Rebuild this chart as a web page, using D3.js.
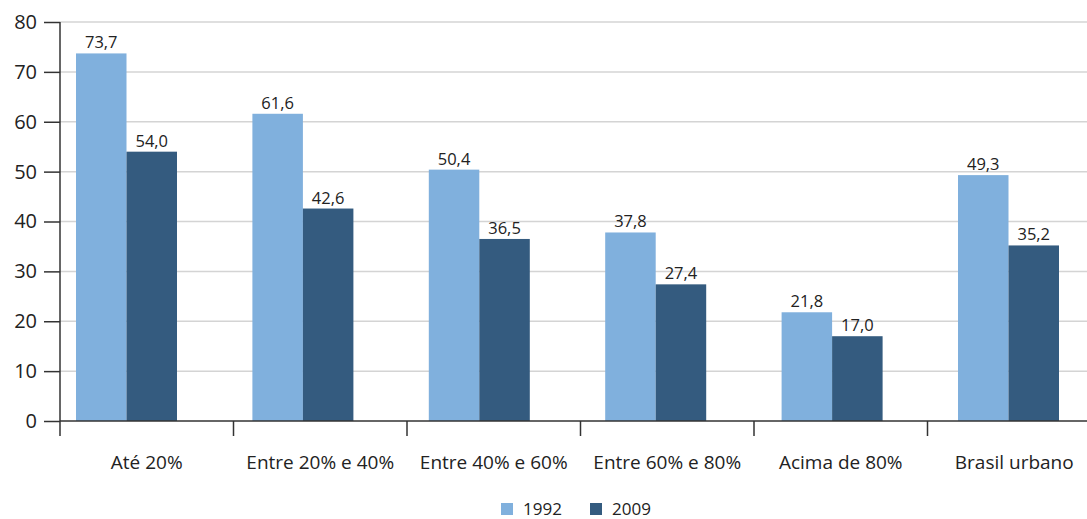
<!DOCTYPE html>
<html>
<head>
<meta charset="utf-8">
<script src="https://cdn.jsdelivr.net/npm/d3@7"></script>
<style>
  body { margin: 0; background: #fff; }
  text { font-family: "Open Sans", sans-serif; fill: #222; }
</style>
</head>
<body>
<div id="chart"></div>
<script>
// categories (income share groups) and the two series
var categories = ["Até 20%", "Entre 20% e 40%", "Entre 40% e 60%", "Entre 60% e 80%", "Acima de 80%", "Brasil urbano"];
var seriesNames = ["1992", "2009"];
var values1992 = [73.7, 61.6, 50.4, 37.8, 21.8, 49.3];
var values2009 = [54.0, 42.6, 36.5, 27.4, 17.0, 35.2];
var yTicks = [0, 10, 20, 30, 40, 50, 60, 70, 80];

var width = 1087, height = 519;
var colors = { "1992": "#80b0dd", "2009": "#345b7f" };

// build the grouped rows for d3
var data = categories.map(function(c, i) {
  return {
    category: c,
    values: [
      { name: "1992", value: values1992[i] },
      { name: "2009", value: values2009[i] }
    ]
  };
});

var svg = d3.select("#chart").append("svg")
  .attr("width", width)
  .attr("height", height);

// y scale
var y = d3.scaleLinear().domain([0, 80]).range([421, 22]);

// category bands for ticks and labels
var xCat = d3.scaleBand().domain(categories).range([60, 60 + 6 * 173.5]);

// bar groups sit on a slightly wider step than the label bands
var xBar = d3.scaleBand().domain(categories).range([76, 76 + 6 * 176.4]);
var x1 = d3.scaleBand().domain(seriesNames).range([0, 101]);

// gridlines
svg.append("g")
  .selectAll("line")
  .data(yTicks.filter(function(d) { return d > 0; }))
  .enter()
  .append("line")
  .attr("x1", 60)
  .attr("x2", width)
  .attr("y1", function(d) { return y(d); })
  .attr("y2", function(d) { return y(d); })
  .attr("stroke", "#d4d4d4")
  .attr("stroke-width", 1.5);

// bars
var group = svg.selectAll(".cat")
  .data(data)
  .enter()
  .append("g")
  .attr("class", "cat")
  .attr("transform", function(d) { return "translate(" + xBar(d.category) + ",0)"; });

group.selectAll("rect")
  .data(function(d) { return d.values; })
  .enter()
  .append("rect")
  .attr("x", function(d) { return x1(d.name); })
  .attr("width", x1.bandwidth())
  .attr("y", function(d) { return y(d.value); })
  .attr("height", function(d) { return y(0) - y(d.value); })
  .attr("fill", function(d) { return colors[d.name]; });

// value labels
group.selectAll("text")
  .data(function(d) { return d.values; })
  .enter()
  .append("text")
  .attr("x", function(d) { return x1(d.name) + x1.bandwidth() / 2; })
  .attr("y", function(d) { return y(d.value) - 5; })
  .attr("text-anchor", "middle")
  .style("font-size", "16.5px")
  .text(function(d) { return d.value.toFixed(1).replace(".", ","); });

// y axis
var yAxis = d3.axisLeft(y)
  .tickValues(yTicks)
  .tickSize(16)
  .tickPadding(7);

var yg = svg.append("g")
  .attr("transform", "translate(60,0)")
  .call(yAxis);
yg.select(".domain").remove();
yg.selectAll(".tick line").attr("stroke", "#333").attr("stroke-width", 1.5);
yg.selectAll(".tick text")
  .style("font-size", "20px")
  .style("font-family", "'Open Sans', sans-serif")
  .attr("fill", "#222");

// vertical axis line, runs below the baseline like the category ticks
svg.append("line")
  .attr("x1", 60).attr("x2", 60)
  .attr("y1", y(80)).attr("y2", y(0) + 15)
  .attr("stroke", "#333").attr("stroke-width", 1.5);

// baseline
svg.append("line")
  .attr("x1", 60).attr("x2", width)
  .attr("y1", y(0)).attr("y2", y(0))
  .attr("stroke", "#333").attr("stroke-width", 1.5);

// category separator ticks
svg.append("g")
  .selectAll("line")
  .data(categories.slice(1))
  .enter()
  .append("line")
  .attr("x1", function(d) { return xCat(d); })
  .attr("x2", function(d) { return xCat(d); })
  .attr("y1", y(0))
  .attr("y2", y(0) + 15)
  .attr("stroke", "#333")
  .attr("stroke-width", 1.5);

// category labels
svg.append("g")
  .selectAll("text")
  .data(categories)
  .enter()
  .append("text")
  .attr("x", function(d) { return xCat(d) + xCat.bandwidth() / 2; })
  .attr("y", 469)
  .attr("text-anchor", "middle")
  .style("font-size", "19px")
  .text(function(d) { return d; });

// legend
var legendX = d3.scaleOrdinal().domain(seriesNames).range([501, 590]);

var legend = svg.selectAll(".legend")
  .data(seriesNames)
  .enter()
  .append("g")
  .attr("class", "legend")
  .attr("transform", function(d) { return "translate(" + legendX(d) + ",503)"; });

legend.append("rect")
  .attr("width", 12)
  .attr("height", 12)
  .attr("fill", function(d) { return colors[d]; });

legend.append("text")
  .attr("x", 22)
  .attr("y", 12)
  .style("font-size", "17px")
  .text(function(d) { return d; });
</script>
</body>
</html>
